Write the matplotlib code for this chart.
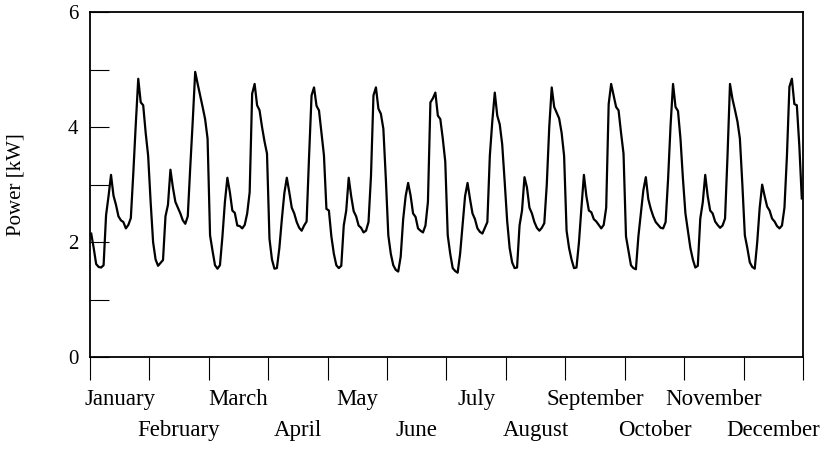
import numpy as np
import matplotlib
matplotlib.use("Agg")
import matplotlib.pyplot as plt
from matplotlib.ticker import FixedLocator, NullFormatter

# average daily load profile (24 hourly values) for each month, kW
jan = [2.15, 1.9, 1.62, 1.57, 1.56, 1.6, 2.47, 2.8, 3.17, 2.81, 2.65, 2.45,
       2.38, 2.35, 2.24, 2.3, 2.42, 3.2, 4.05, 4.84, 4.43, 4.38, 3.9, 3.5]
feb = [2.7, 2.0, 1.7, 1.59, 1.64, 1.69, 2.45, 2.65, 3.26, 2.95, 2.7, 2.6,
       2.5, 2.38, 2.32, 2.45, 3.3, 4.1, 4.96, 4.75, 4.55, 4.35, 4.14, 3.8]
mar = [2.12, 1.85, 1.6, 1.54, 1.6, 2.1, 2.7, 3.12, 2.87, 2.55, 2.51, 2.29,
       2.28, 2.24, 2.3, 2.5, 2.87, 4.58, 4.75, 4.38, 4.29, 4.0, 3.75, 3.54]
apr = [2.06, 1.7, 1.54, 1.55, 1.9, 2.4, 2.85, 3.12, 2.87, 2.6, 2.5, 2.35,
       2.25, 2.2, 2.29, 2.36, 3.5, 4.55, 4.69, 4.37, 4.29, 3.9, 3.51, 2.58]
may = [2.55, 2.1, 1.8, 1.6, 1.55, 1.59, 2.29, 2.55, 3.12, 2.8, 2.54, 2.45,
       2.29, 2.25, 2.17, 2.2, 2.35, 3.15, 4.55, 4.69, 4.32, 4.23, 3.97, 3.1]
jun = [2.12, 1.8, 1.6, 1.52, 1.49, 1.75, 2.4, 2.8, 3.03, 2.81, 2.5, 2.44,
       2.24, 2.2, 2.17, 2.29, 2.7, 4.43, 4.5, 4.6, 4.2, 4.14, 3.8, 3.4]
jul = [2.12, 1.8, 1.55, 1.5, 1.47, 1.8, 2.3, 2.8, 3.03, 2.75, 2.5, 2.4,
       2.24, 2.18, 2.15, 2.25, 2.35, 3.5, 4.1, 4.6, 4.2, 4.05, 3.7, 3.05]
aug = [2.37, 1.9, 1.65, 1.55, 1.56, 2.29, 2.55, 3.13, 2.95, 2.6, 2.5, 2.35,
       2.25, 2.2, 2.25, 2.33, 3.0, 4.0, 4.69, 4.35, 4.25, 4.15, 3.9, 3.5]
sep = [2.2, 1.9, 1.7, 1.55, 1.56, 2.0, 2.6, 3.17, 2.8, 2.55, 2.52, 2.4,
       2.36, 2.3, 2.24, 2.3, 2.6, 4.4, 4.75, 4.55, 4.35, 4.29, 3.9, 3.54]
oct_ = [2.1, 1.85, 1.6, 1.55, 1.53, 2.1, 2.5, 2.9, 3.13, 2.75, 2.58, 2.45,
        2.35, 2.3, 2.25, 2.24, 2.35, 3.1, 4.03, 4.75, 4.35, 4.28, 3.8, 3.1]
nov = [2.5, 2.2, 1.9, 1.7, 1.56, 1.59, 2.41, 2.69, 3.17, 2.8, 2.55, 2.5,
       2.36, 2.3, 2.25, 2.29, 2.41, 3.5, 4.75, 4.49, 4.3, 4.1, 3.8, 3.0]
dec = [2.12, 1.9, 1.65, 1.57, 1.54, 2.0, 2.6, 3.0, 2.8, 2.62, 2.55, 2.41,
       2.36, 2.28, 2.24, 2.29, 2.6, 3.5, 4.7, 4.84, 4.4, 4.38, 3.68, 2.76]

months = ["January", "February", "March", "April", "May", "June", "July",
          "August", "September", "October", "November", "December"]

power = np.concatenate([jan, feb, mar, apr, may, jun, jul, aug, sep, oct_, nov, dec])
hours = np.arange(len(power)) + 0.5

plt.rcParams["font.family"] = ["Liberation Serif", "DejaVu Serif"]
plt.rcParams["font.size"] = 15

fig = plt.figure(figsize=(8.3, 4.5), dpi=100)
ax = fig.add_axes([0.1084, 0.206, 0.9675 - 0.1084, 0.9733 - 0.206])

ax.plot(hours, power, color="black", lw=1.6)

ax.set_xlim(0, 288)
ax.set_ylim(0, 6)

# month boundaries as ticks, names centred in each month on two rows
bounds = np.arange(0, 289, 24)
mids = np.arange(12, 288, 24)
ax.xaxis.set_major_locator(FixedLocator(bounds))
ax.xaxis.set_major_formatter(NullFormatter())
ax.set_xticks(mids[0::2], months[0::2], minor=True)
ax.tick_params(axis="x", which="major", direction="out", length=16.5, width=0.8)
ax.tick_params(axis="x", which="minor", length=0, pad=23, labelsize=16.5)

sec = ax.secondary_xaxis("bottom")
sec.set_xticks(mids[1::2], months[1::2])
sec.tick_params(axis="x", length=0, pad=45, labelsize=16.5)
sec.spines["bottom"].set_visible(False)

ax.set_yticks([0, 2, 4, 6])
ax.set_yticks([1, 3, 5], minor=True)
ax.tick_params(axis="y", which="both", direction="in", length=13.5, width=0.8, pad=8.5)

for s in ax.spines.values():
    s.set_linewidth(1.3)

ax.set_ylabel("Power [kW]", labelpad=30)

fig.savefig("out.png", dpi=100)
